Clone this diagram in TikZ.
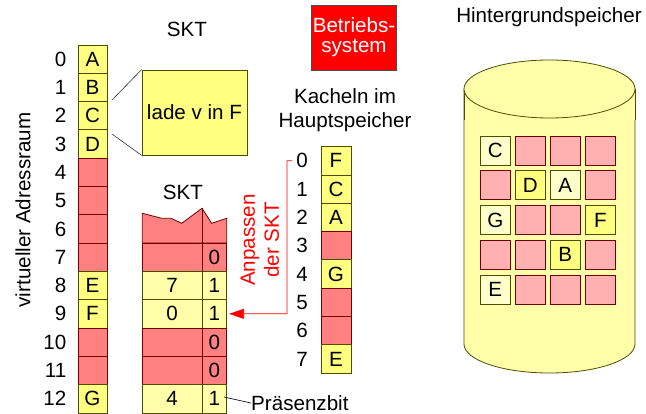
\documentclass[tikz,border=0pt]{standalone}
\usepackage{fontspec}
\setmainfont{Liberation Sans}
\usetikzlibrary{arrows.meta}
\definecolor{yel}{HTML}{FFFF80}
\definecolor{paleyel}{HTML}{FFFFAA}
\definecolor{lightyel}{HTML}{FFFFCC}
\definecolor{cylyel}{HTML}{FFFFAA}
\definecolor{redc}{HTML}{FF8080}
\definecolor{pinkc}{HTML}{FFB0B0}
\definecolor{olive}{HTML}{4D4D00}
\definecolor{dred}{HTML}{700000}
\tikzset{
  txt/.style={font=\fontsize{20.6}{24}\selectfont, inner sep=0pt},
  cellbase/.style={txt, minimum width=29pt, minimum height=28.3pt, inner sep=0pt, line width=0.8pt},
  ycell/.style={cellbase, draw=olive, fill=yel},
  rcell/.style={cellbase, draw=dred, fill=redc},
  pycell/.style={ycell, fill=paleyel},
  gsq/.style={txt, minimum width=30.7pt, minimum height=29pt, line width=0.8pt},
  gy/.style={gsq, draw=olive, fill=yel},
  gl/.style={gsq, draw=olive, fill=lightyel},
  gp/.style={gsq, draw=dred, fill=pinkc},
  num/.style={txt, anchor=east},
}
\begin{document}
\begin{tikzpicture}[x=1pt,y=-1pt]
\useasboundingbox (0,0) rectangle (646,414);
\fill[white] (0,0) rectangle (646,414);

% ---- virtual address space
\node[txt, rotate=90] (va) at (23,210) {virtueller Adressraum};
\node[txt] (skt1) at (187,29) {SKT};
\foreach \i/\l/\s in {0/A/ycell,1/B/ycell,2/C/ycell,3/D/ycell,4//rcell,5//rcell,6//rcell,7//rcell,8/E/ycell,9/F/ycell,10//rcell,11//rcell,12/G/ycell}{
  \node[\s] (v\i) at (92.5,{59.15+28.3*\i}) {\l};
  \node[num] (vn\i) at (66.5,{59.15+28.3*\i}) {\i};
}

% ---- lade box
\node[txt, draw=olive, fill=yel, line width=0.8pt, minimum width=105pt, minimum height=85pt] (lade) at (194.5,112.5) {lade v in F};
\coordinate (l1) at (112,100);
\coordinate (l2) at (112,134);
\draw[line width=0.6pt, black!80] (l1) -- (lade.north west);
\draw[line width=0.6pt, black!80] (l2) -- (lade.south west);

% ---- second SKT
\node[txt] (skt2) at (183,192) {SKT};
\filldraw[fill=redc, draw=dred, line width=0.8pt] (142.3,213.3) -- (161.7,218.3) -- (171,218.3) -- (181.7,223.3) -- (202,208.3) -- (211.7,223.3) -- (226.7,218.3) -- (226.7,243) -- (142.3,243) -- cycle;
\draw[dred, line width=0.8pt] (202,208.3) -- (202,243);
\foreach \i/\a/\b/\s in {7//0/rcell,8/7/1/pycell,9/0/1/pycell,10//0/rcell,11//0/rcell,12/4/1/pycell}{
  \node[\s, minimum width=59.7pt] (sa\i) at (172.15,{59.15+28.3*\i}) {\a};
  \node[\s, minimum width=24.7pt] (sb\i) at (214.35,{59.15+28.3*\i}) {\b};
}
\coordinate (pbs) at (224,397);
\node[txt, anchor=west] (pb) at (251,403) {Präsenzbit};
\draw[line width=0.6pt] (pbs) -- (pb.west);

% ---- Betriebssystem
\node[txt, draw=black!70, fill=red, text=white, align=center, line width=0.8pt, minimum width=85pt, minimum height=65pt, font=\fontsize{20.6}{20}\selectfont] (bs) at (354,37.5) {Betriebs-\\system};

% ---- Kacheln
\node[txt, align=center] (kh) at (345,110) {Kacheln im\\Hauptspeicher};
\foreach \i/\l/\s in {0/F/ycell,1/C/ycell,2/A/ycell,3//rcell,4/G/ycell,5//rcell,6//rcell,7/E/ycell}{
  \node[\s, minimum width=30pt] (k\i) at (336,{160.85+28.3*\i}) {\l};
  \node[num] (kn\i) at (308,{160.85+28.3*\i}) {\i};
}

% ---- Anpassen arrow
\coordinate (bt) at (292,160.7);
\coordinate (bc) at (287,160.7);
\coordinate (bb) at (287,313.7);
\draw[red, line width=0.8pt, -{Triangle[length=15pt,width=10pt]}, shorten >=2pt] (bt) -- (bc) -- (bb) -- (sb9.east);
\node[txt, text=red, align=center, rotate=90] (anp) at (260,240) {Anpassen\\der SKT};

% ---- Hintergrundspeicher
\node[txt] (hg) at (549,17) {Hintergrundspeicher};
\filldraw[fill=cylyel, draw=olive, line width=0.8pt] (464,89) -- (464,344) .. controls (464,360) and (502.3,373) .. (549.5,373) .. controls (596.7,373) and (635,360) .. (635,344) -- (635,89);
\fill[cylyel] (464,89) rectangle (635,120);
\draw[olive, line width=0.8pt] (464,89) -- (464,120) (635,89) -- (635,120);
\draw[olive, fill=cylyel, line width=0.8pt] (549.5,89) ellipse [x radius=85.5pt, y radius=29pt];

\foreach \r/\row in {0/{gl/C,gp/,gp/,gp/},1/{gp/,gy/D,gl/A,gp/},2/{gl/G,gp/,gp/,gy/F},3/{gp/,gp/,gy/B,gp/},4/{gl/E,gp/,gp/,gp/}}{
  \foreach \s/\l [count=\c from 0] in \row {
    \node[\s] (g\r\c) at ({495.35+35*\c},{150.5+34.75*\r}) {\l};
  }
}
\end{tikzpicture}
\end{document}
